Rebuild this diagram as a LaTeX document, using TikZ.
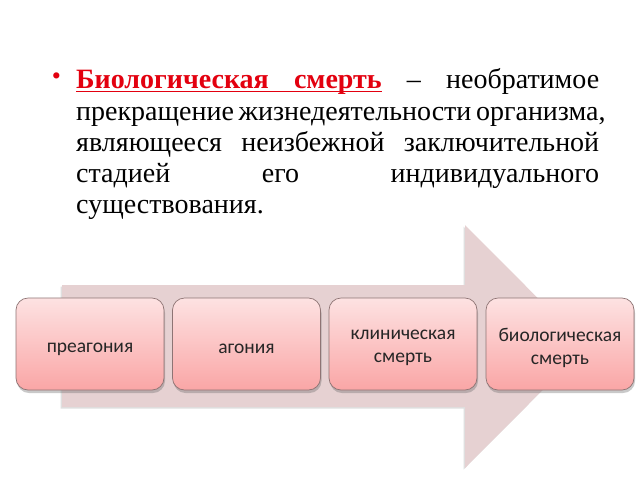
\documentclass[tikz,border=0pt]{standalone}
\usepackage{fontspec}
\setmainfont{Liberation Serif}
\newfontfamily\boxfont{Carlito}
\usetikzlibrary{shadows}
\definecolor{arrowfill}{HTML}{E6D1D2}
\definecolor{boxtop}{HTML}{FDE2E2}
\definecolor{boxbot}{HTML}{FAA6A6}
\definecolor{boxline}{HTML}{8E7474}
\definecolor{redtxt}{HTML}{E3000F}
\newcommand\myul[1]{{\setbox0\hbox{#1}\rlap{\rule[-4pt]{\wd0}{1.4pt}}\box0}}
\newcommand\ulgap{\leaders\hrule height -2.6pt depth 4pt\hskip 0.25em plus 1fill\relax}
\newcommand\gap{\hskip 0.25em plus 1fill\relax}
\tikzset{
  stage/.style={draw=boxline, line width=0.7pt, rounded corners=12pt,
    top color=boxtop, bottom color=boxbot, minimum width=148pt, minimum height=92pt,
    inner sep=0pt,
    drop shadow={shadow xshift=1pt, shadow yshift=-3pt, opacity=0.35, fill=black!60}},
  stagetext/.style={inner sep=0pt, align=center, font=\boxfont\fontsize{19.5}{22.5}\selectfont, text=black!85},
  txtline/.style={anchor=base west, inner sep=0pt, font=\fontsize{28}{32}\selectfont}
}
\begin{document}
\begin{tikzpicture}[x=1pt,y=-1pt]
\useasboundingbox (0,0) rectangle (640,480);
\fill[white] (0,0) rectangle (640,480);
% text
\node[anchor=base, inner sep=0pt, text=redtxt, font=\fontsize{26}{31}\selectfont] (bul) at (56.5,84) {\textbullet};
\node[txtline] (l1) at (76,88) {\makebox[523pt][l]{{\color{redtxt}\bfseries\myul{Биологическая}\ulgap\myul{смерть}}\gap–\gap необратимое}};
\node[txtline] (l2) at (76,120) {\makebox[523pt][s]{прекращение жизнедеятельности организма,}};
\node[txtline] (l3) at (76,151) {\makebox[523pt][s]{являющееся неизбежной заключительной}};
\node[txtline] (l4) at (76,182) {\makebox[523pt][s]{стадией его индивидуального}};
\node[txtline] (l5) at (76,213) {существования.};
% arrow
\path[fill=arrowfill, drop shadow={shadow xshift=-1.5pt, shadow yshift=-1.5pt, opacity=0.25, fill=black!50}]
  (62,285) -- (465,285) -- (465,225) -- (586,346.5) -- (465,468) -- (465,407) -- (62,407) -- cycle;
% boxes
\node[stage] (s1) at (90,344) {};
\node[stage] (s2) at (246.5,344) {};
\node[stage] (s3) at (403,344) {};
\node[stage] (s4) at (560,344) {};
\node[stagetext] (t1) at ([yshift=-5pt]s1.center) {преагония};
\node[stagetext] (t2) at ([yshift=-5pt]s2.center) {агония};
\node[stagetext] (t3) at ([yshift=-4pt]s3.center) {клиническая\\смерть};
\node[stagetext] (t4) at ([yshift=-4pt]s4.center) {биологическая\\смерть};
\end{tikzpicture}
\end{document}
